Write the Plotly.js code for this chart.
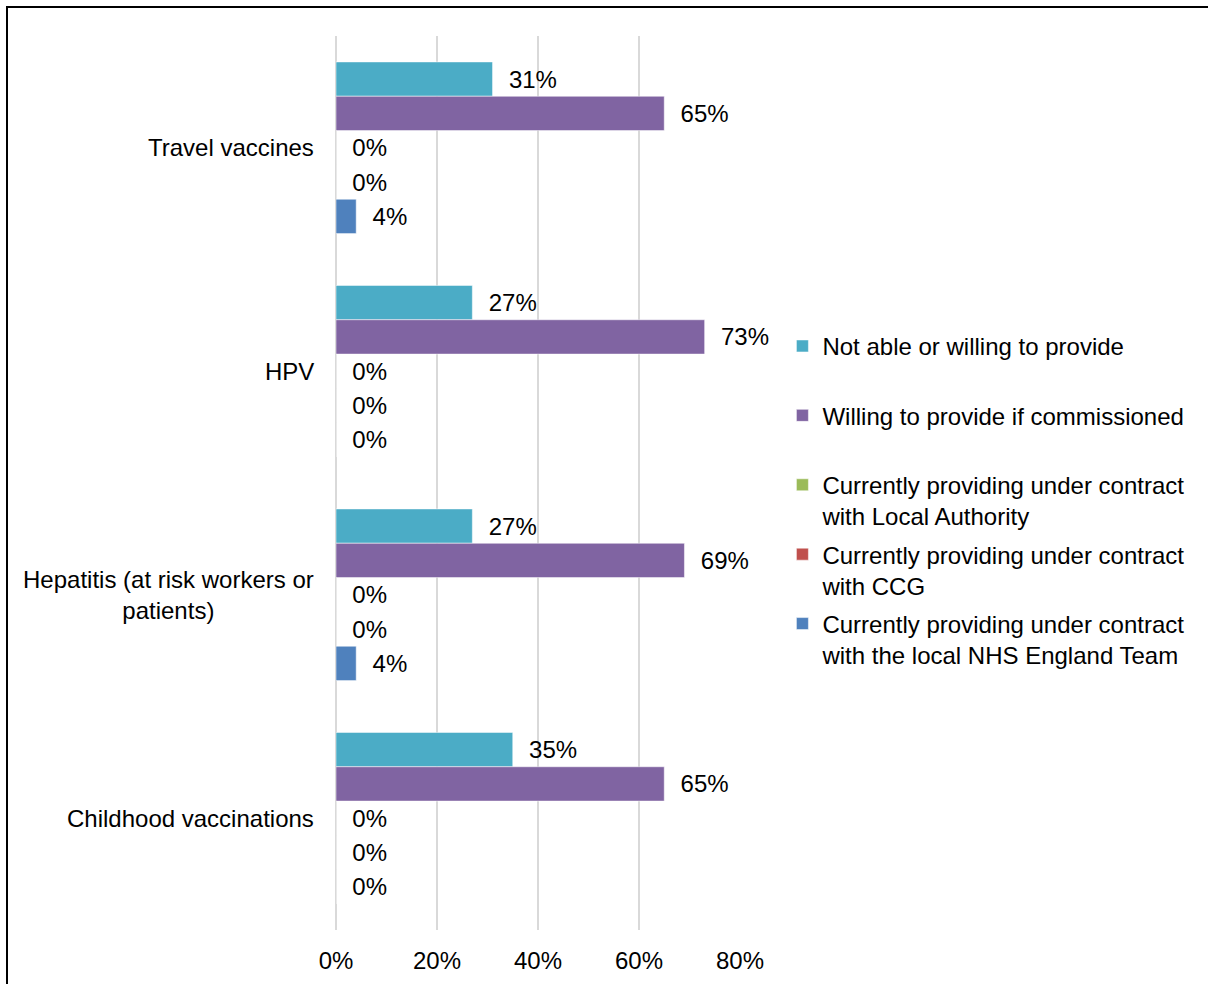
<!DOCTYPE html>
<html>
<head>
<meta charset="utf-8">
<script src="https://cdn.plot.ly/plotly-3.0.1.min.js"></script>
<style>
  html, body { margin: 0; padding: 0; background: #fff; overflow: hidden; }
  #frame { position: absolute; left: 6px; top: 6px; width: 1220px; height: 1000px; border: 2px solid #000; box-sizing: border-box; pointer-events: none; z-index: 10; }
  #chart { position: absolute; left: 0; top: 0; width: 1208px; height: 984px; }
</style>
</head>
<body>
<div id="chart"></div>
<div id="frame"></div>
<script>
const categories = ["Travel vaccines", "HPV", "Hepatitis (at risk workers or<br>patients)", "Childhood vaccinations"];
const seriesNames = [
  "Not able or willing to provide",
  "Willing to provide if commissioned",
  "Currently providing under contract<br>with Local Authority",
  "Currently providing under contract<br>with CCG",
  "Currently providing under contract<br>with the local NHS England Team"
];
const notAble      = [0.31, 0.27, 0.27, 0.35];
const willing      = [0.65, 0.73, 0.69, 0.65];
const localAuth    = [0.00, 0.00, 0.00, 0.00];
const ccg          = [0.00, 0.00, 0.00, 0.00];
const nhsEngland   = [0.04, 0.00, 0.04, 0.00];
const seriesValues = [notAble, willing, localAuth, ccg, nhsEngland];
const colors = ["#4BACC6", "#8064A2", "#9BBB59", "#C0504D", "#4F81BD"];
const xTickVals = [0, 0.2, 0.4, 0.6, 0.8];
const xTickText = ["0%", "20%", "40%", "60%", "80%"];

const FONT = "Liberation Sans, Arial, sans-serif";
const FS = 24;
const NB = "\u00a0";

const traces = seriesValues.map((vals, i) => {
  const label = seriesNames[i].indexOf("<br>") >= 0 ? seriesNames[i] : seriesNames[i] + "<br>" + NB;
  return {
    type: "bar",
    orientation: "h",
    name: label,
    legendgroup: "g" + i,
    x: vals,
    y: categories,
    marker: { color: colors[i], line: { color: "rgba(255,255,255,0.5)", width: 1 } },
    text: vals.map(v => NB + NB + Math.round(v * 100) + "%"),
    texttemplate: "%{text}",
    textposition: "outside",
    cliponaxis: false,
    textfont: { family: FONT, size: FS, color: "#000" },
    hoverinfo: "x+name"
  };
});

const annotations = categories.map(c => ({
  x: 0, y: c, xref: "x", yref: "y",
  text: c, showarrow: false,
  xanchor: "right", yanchor: "middle", align: "center",
  xshift: -20,
  font: { family: FONT, size: FS, color: "#000" }
}));

const layout = {
  width: 1208, height: 984,
  margin: { l: 336, r: 468, t: 36, b: 54 },
  paper_bgcolor: "#fff", plot_bgcolor: "#fff",
  font: { family: FONT, size: FS, color: "#000" },
  barmode: "group",
  bargap: 0.232,
  bargroupgap: 0,
  showlegend: true,
  legend: {
    x: 1.105, xanchor: "left",
    y: 0.678, yanchor: "top",
    valign: "top",
    tracegroupgap: 4,
    font: { family: FONT, size: FS, color: "#000" },
    bgcolor: "rgba(0,0,0,0)"
  },
  xaxis: {
    range: [0, 0.8],
    tickvals: xTickVals, ticktext: xTickText,
    showgrid: true, gridcolor: "#d9d9d9", gridwidth: 2,
    zeroline: true, zerolinecolor: "#d9d9d9", zerolinewidth: 2,
    showline: false, ticks: "",
    ticklabelstandoff: 14,
    tickfont: { family: FONT, size: FS, color: "#000" },
    fixedrange: true
  },
  yaxis: {
    type: "category",
    autorange: "reversed",
    showticklabels: false, showgrid: false, zeroline: false, showline: false, ticks: "",
    fixedrange: true
  },
  annotations: annotations
};

Plotly.newPlot("chart", traces, layout, { displayModeBar: false, staticPlot: true });
</script>
</body>
</html>
